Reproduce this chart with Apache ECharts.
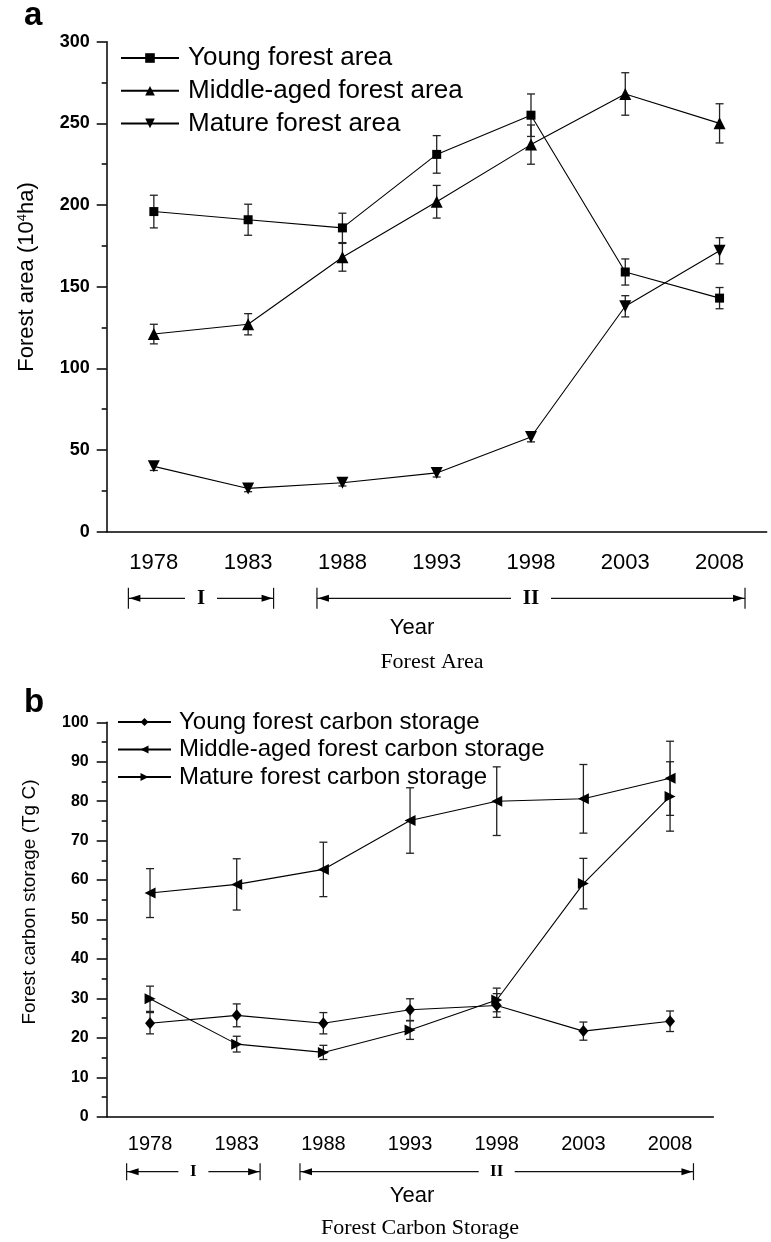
<!DOCTYPE html>
<html>
<head>
<meta charset="utf-8">
<script src="https://cdn.jsdelivr.net/npm/echarts@6/dist/echarts.min.js"></script>
<style>
html, body { margin: 0; padding: 0; background: #fff; }
#main { width: 771px; height: 1242px; }
</style>
</head>
<body>
<div id="main"></div>
<script>
// categories
var years = ['1978', '1983', '1988', '1993', '1998', '2003', '2008'];

// panel a: forest area (10^4 ha), mean and error
var youngArea = [196, 191, 186, 231, 255, 159, 143];
var youngAreaErr = [10, 9.5, 9, 11.5, 13, 8, 6.5];
var middleArea = [121, 127, 168, 202, 237, 268, 250];
var middleAreaErr = [6, 6.5, 8.5, 10, 12, 13, 12];
var matureArea = [40, 26.5, 30, 36, 58, 138, 172];
var matureAreaErr = [2.5, 2, 2, 2.5, 3, 6.5, 8];

// panel b: carbon storage (Tg C), mean and error
var youngCarbon = [23.7, 25.7, 23.7, 27.1, 28.2, 21.7, 24.2];
var youngCarbonErr = [2.7, 2.9, 2.7, 2.8, 3, 2.3, 2.6];
var middleCarbon = [56.7, 58.9, 62.7, 75.1, 80, 80.6, 85.8];
var middleCarbonErr = [6.2, 6.5, 6.9, 8.3, 8.7, 8.7, 9.4];
var matureCarbon = [29.9, 18.4, 16.3, 22, 29.6, 59.1, 81.2];
var matureCarbonErr = [3.2, 2, 1.8, 2.4, 3, 6.4, 8.8];

// periods under the x axis
var periods = [
    { label: 'I', from: '1978', to: '1983' },
    { label: 'II', from: '1988', to: '2008' }
];

var SANS = "'Liberation Sans', Arial, sans-serif";
var SERIF = "'Liberation Serif', 'Times New Roman', serif";

var chart = echarts.init(document.getElementById('main'));

function lineSeries(name, data, symbol, rotate, size, idx) {
    return {
        name: name,
        type: 'line',
        xAxisIndex: idx * 2,
        yAxisIndex: idx,
        data: data,
        symbol: symbol,
        symbolSize: size,
        symbolRotate: rotate,
        symbolKeepAspect: true,
        lineStyle: { color: '#000', width: 1.1 },
        itemStyle: { color: '#000' },
        z: 3
    };
}

function errSeries(values, errs, idx) {
    return {
        type: 'custom',
        xAxisIndex: idx * 2,
        yAxisIndex: idx,
        silent: true,
        z: 2,
        encode: { x: 0, y: [1, 2] },
        data: values.map(function (v, i) { return [i, v - errs[i], v + errs[i]]; }),
        renderItem: function (params, api) {
            var lo = api.coord([api.value(0), api.value(1)]);
            var hi = api.coord([api.value(0), api.value(2)]);
            var hw = 4;
            var st = { stroke: '#222', lineWidth: 1.3 };
            return {
                type: 'group',
                children: [
                    { type: 'line', shape: { x1: hi[0], y1: hi[1], x2: lo[0], y2: lo[1] }, style: st },
                    { type: 'line', shape: { x1: hi[0] - hw, y1: hi[1], x2: hi[0] + hw, y2: hi[1] }, style: st },
                    { type: 'line', shape: { x1: lo[0] - hw, y1: lo[1], x2: lo[0] + hw, y2: lo[1] }, style: st }
                ]
            };
        }
    };
}

function xAxes(gridIndex, fontSize, margin) {
    return [{
        type: 'category',
        gridIndex: gridIndex,
        data: years,
        boundaryGap: true,
        axisLine: { lineStyle: { color: '#000', width: 1.5 } },
        axisTick: { alignWithLabel: true, interval: 0, length: 9, lineStyle: { color: '#000', width: 1.5 } },
        axisLabel: { interval: 0, margin: margin, color: '#000', fontFamily: SANS, fontSize: fontSize },
        splitLine: { show: false }
    }, {
        type: 'category',
        gridIndex: gridIndex,
        data: years,
        boundaryGap: true,
        axisLine: { show: false },
        axisTick: { interval: 0, length: 4.5, lineStyle: { color: '#000', width: 1.5 } },
        axisLabel: { show: false },
        splitLine: { show: false }
    }];
}

function yAxis(gridIndex, max, interval, fontSize, margin) {
    return {
        type: 'value',
        gridIndex: gridIndex,
        min: 0,
        max: max,
        interval: interval,
        axisLine: { show: true, lineStyle: { color: '#000', width: 1.5 } },
        axisTick: { show: true, length: 10, lineStyle: { color: '#000', width: 1.5 } },
        minorTick: { show: true, splitNumber: 2, length: 5, lineStyle: { color: '#000', width: 1.5 } },
        axisLabel: { margin: margin, color: '#000', fontFamily: SANS, fontWeight: 'bold', fontSize: fontSize },
        splitLine: { show: false }
    };
}

function legend(names, left, top, fontSize, lineHeight, gap, iconW, iconH, textGap) {
    return {
        data: names,
        orient: 'vertical',
        left: left,
        top: top,
        padding: 0,
        itemWidth: iconW,
        itemHeight: iconH,
        itemGap: gap,
        textStyle: { color: '#000', fontFamily: SANS, fontSize: fontSize, lineHeight: lineHeight, padding: [0, 0, 0, textGap] }
    };
}

var option = {
    animation: false,
    backgroundColor: '#fff',
    grid: [
        { left: 106.7, top: 41.7, width: 660, height: 490, outerBoundsMode: 'none' },
        { left: 106.7, top: 722.3, width: 606.7, height: 394.4, outerBoundsMode: 'none' }
    ],
    xAxis: xAxes(0, 22, 20).concat(xAxes(1, 20, 18)),
    yAxis: [yAxis(0, 300, 50, 18, 17), yAxis(1, 100, 10, 16, 18)],
    legend: [
        legend(['Young forest area', 'Middle-aged forest area', 'Mature forest area'], 120, 44.5, 26, 27, 5.7, 58, 12, 4),
        legend(['Young forest carbon storage', 'Middle-aged forest carbon storage', 'Mature forest carbon storage'], 117, 710, 24, 24, 3.5, 53, 10, 3)
    ],
    series: [
        errSeries(youngArea, youngAreaErr, 0),
        errSeries(middleArea, middleAreaErr, 0),
        errSeries(matureArea, matureAreaErr, 0),
        lineSeries('Young forest area', youngArea, 'rect', 0, 9, 0),
        lineSeries('Middle-aged forest area', middleArea, 'triangle', 0, 12, 0),
        lineSeries('Mature forest area', matureArea, 'triangle', 180, 12, 0),
        errSeries(youngCarbon, youngCarbonErr, 1),
        errSeries(middleCarbon, middleCarbonErr, 1),
        errSeries(matureCarbon, matureCarbonErr, 1),
        lineSeries('Young forest carbon storage', youngCarbon, 'diamond', 0, [10, 12], 1),
        lineSeries('Middle-aged forest carbon storage', middleCarbon, 'triangle', 90, 11, 1),
        lineSeries('Mature forest carbon storage', matureCarbon, 'triangle', -90, 11, 1)
    ]
};

chart.setOption(option);

// text and period brackets placed around the two panels
function bracket(xi, p, y, barH, gap, fontSize) {
    var a = chart.convertToPixel({ xAxisIndex: xi }, p.from);
    var b = chart.convertToPixel({ xAxisIndex: xi }, p.to);
    var band = chart.convertToPixel({ xAxisIndex: xi }, years[1]) - chart.convertToPixel({ xAxisIndex: xi }, years[0]);
    var xL = a - 0.27 * band, xR = b + 0.27 * band, mid = (xL + xR) / 2;
    var st = { stroke: '#111', lineWidth: 1.2 };
    return [
        { type: 'line', shape: { x1: xL, y1: y - barH / 2, x2: xL, y2: y + barH / 2 }, style: st },
        { type: 'line', shape: { x1: xR, y1: y - barH / 2, x2: xR, y2: y + barH / 2 }, style: st },
        { type: 'line', shape: { x1: xL, y1: y, x2: mid - gap, y2: y }, style: st },
        { type: 'line', shape: { x1: mid + gap, y1: y, x2: xR, y2: y }, style: st },
        { type: 'polygon', shape: { points: [[xL + 1, y], [xL + 12, y - 3.5], [xL + 12, y + 3.5]] }, style: { fill: '#000' } },
        { type: 'polygon', shape: { points: [[xR - 1, y], [xR - 12, y - 3.5], [xR - 12, y + 3.5]] }, style: { fill: '#000' } },
        { type: 'text', x: mid, y: y, style: { text: p.label, fontFamily: SERIF, fontWeight: 'bold', fontSize: fontSize, fill: '#000', align: 'center', verticalAlign: 'middle' } }
    ];
}

function txt(text, x, y, font, size, weight, rotate, align) {
    return {
        type: 'text', x: x, y: y, rotation: rotate || 0,
        style: { text: text, fontFamily: font, fontSize: size, fontWeight: weight || 'normal', fill: '#000', align: align || 'center', verticalAlign: 'middle' }
    };
}

var gfx = [];
gfx = gfx.concat(bracket(0, periods[0], 598.3, 21, 16, 21));
gfx = gfx.concat(bracket(0, periods[1], 598.3, 21, 20, 21));
gfx = gfx.concat(bracket(2, periods[0], 1171.7, 17, 15, 17));
gfx = gfx.concat(bracket(2, periods[1], 1171.7, 17, 18, 17));

gfx.push(txt('a', 24, 16, SANS, 33, 'bold', 0, 'left'));
gfx.push(txt('b', 24, 703, SANS, 33, 'bold', 0, 'left'));
gfx.push({
    type: 'text', x: 27, y: 277, rotation: Math.PI / 2,
    style: {
        text: 'Forest area (10{sup|4}ha)', fontFamily: SANS, fontSize: 22, fill: '#000',
        align: 'center', verticalAlign: 'middle',
        rich: { sup: { fontFamily: SANS, fontSize: 13, verticalAlign: 'top', fill: '#000' } }
    }
});
gfx.push(txt('Forest carbon storage (Tg C)', 30, 902, SANS, 19, 'normal', Math.PI / 2));
gfx.push(txt('Year', 412, 628, SANS, 22));
gfx.push(txt('Year', 412, 1196, SANS, 22));
gfx.push(txt('Forest Area', 432, 662, SERIF, 22));
gfx.push(txt('Forest Carbon Storage', 420, 1228, SERIF, 22));

chart.setOption({ graphic: gfx });
</script>
</body>
</html>
